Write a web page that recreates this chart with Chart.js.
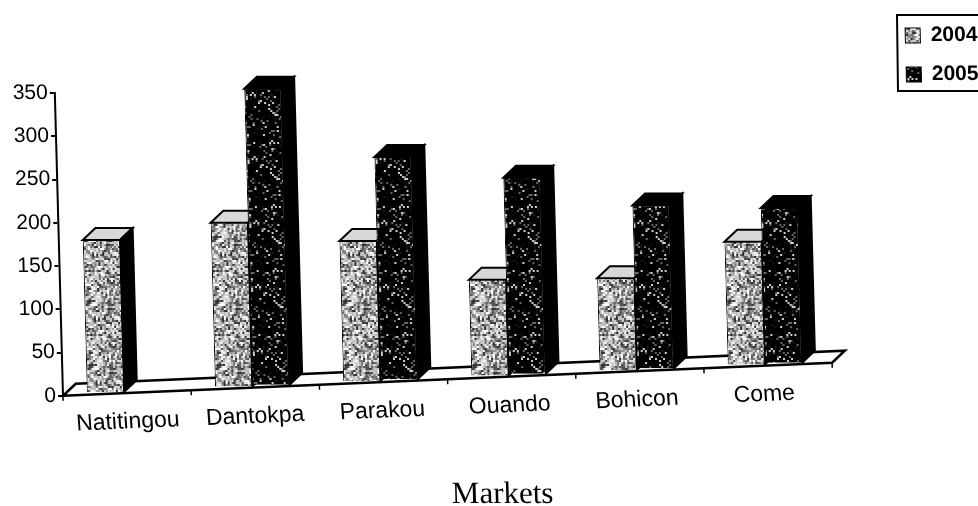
<!DOCTYPE html>
<html>
<head>
<meta charset="utf-8">
<script src="https://cdn.jsdelivr.net/npm/chart.js@4/dist/chart.umd.min.js"></script>
<style>
  html, body { margin: 0; background: #fff; }
  #chart1 { display: block; filter: blur(0.7px); }
</style>
</head>
<body>
<canvas id="chart1" width="978" height="506"></canvas>
<script>
const markets = ['Natitingou', 'Dantokpa', 'Parakou', 'Ouando', 'Bohicon', 'Come'];
const values2004 = [180, 200, 179, 134, 136, 178];
const values2005 = [null, 355, 276, 252, 220, 217];
const yTicks = [0, 50, 100, 150, 200, 250, 300, 350];

// look of the scanned 3D chart
const floorSlope = -0.043;
const lean = 0.027;
const depthX = 13;
const depthY = 12;
const barShift = -3;

// speckle tile, fixed hash so every run looks the same
function speckle(shades) {
  const c = document.createElement('canvas');
  c.width = c.height = 64;
  const g = c.getContext('2d');
  for (let y = 0; y < 32; y++) {
    for (let x = 0; x < 32; x++) {
      const h = Math.abs(Math.sin(x * 12.9898 + y * 78.233) * 43758.5453) % 1;
      g.fillStyle = shades[Math.floor(h * shades.length)];
      g.fillRect(x * 2, y * 2, 2, 2);
    }
  }
  return g.createPattern(c, 'repeat');
}
const light = speckle(['#fff', '#ddd', '#bbb', '#999', '#777', '#555', '#ccc', '#333']);
const dark = speckle(['#000', '#000', '#000', '#000', '#111', '#000', '#000', '#666', '#000', '#000', '#ccc', '#000']);

function floorFront(chart, x) {
  const left = chart.chartArea.left;
  return chart.scales.y.getPixelForValue(0) + (x - left) * floorSlope;
}

const scan3d = {
  id: 'scan3d',
  afterLayout(chart) {
    const lg = chart.legend;
    lg.left = 897;
    lg.right = 1000;
    lg.top = 7;
    lg.bottom = 130;
    lg.adjustHitBoxes();
    chart.titleBlock.left += 167;
    chart.titleBlock.top += 7;
  },
  afterDatasetsUpdate(chart) {
    // bar tops read on the axis, feet stand on the tilted floor
    chart.data.datasets.forEach((d, i) => {
      chart.getDatasetMeta(i).data.forEach(el => {
        el.x += barShift;
        el.base = floorFront(chart, el.x) - 2;
      });
    });
  },
  beforeDraw(chart) {
    const ctx = chart.ctx;
    ctx.save();
    ctx.transform(1, 0, lean, 1, -lean * chart.scales.y.getPixelForValue(0), 0);
  },
  beforeDatasetsDraw(chart) {
    const ctx = chart.ctx;
    const xs = chart.scales.x;
    const left = chart.chartArea.left;
    const right = chart.chartArea.right;
    const step = xs.getPixelForValue(1) - xs.getPixelForValue(0);

    // floor
    ctx.save();
    ctx.strokeStyle = '#000';
    ctx.lineWidth = 2.5;
    ctx.fillStyle = '#fff';
    ctx.beginPath();
    ctx.moveTo(left, floorFront(chart, left));
    ctx.lineTo(right, floorFront(chart, right));
    ctx.lineTo(right + depthX, floorFront(chart, right) - depthY);
    ctx.lineTo(left + depthX, floorFront(chart, left) - depthY);
    ctx.closePath();
    ctx.fill();
    ctx.stroke();
    ctx.lineWidth = 1.5;
    for (let i = 0; i <= markets.length; i++) {
      const x = left + i * step;
      ctx.beginPath();
      ctx.moveTo(x, floorFront(chart, x));
      ctx.lineTo(x, floorFront(chart, x) + 5);
      ctx.stroke();
    }

    // top and side faces, 2004 first
    chart.data.datasets.forEach((d, i) => {
      chart.getDatasetMeta(i).data.forEach((el, j) => {
        if (d.data[j] === null) return;
        const x1 = el.x - el.width / 2;
        const x2 = el.x + el.width / 2;
        ctx.fillStyle = i === 0 ? '#d8d8d8' : '#000';
        ctx.strokeStyle = '#000';
        ctx.lineWidth = 2;
        ctx.beginPath();
        ctx.moveTo(x1, el.y);
        ctx.lineTo(x1 + depthX, el.y - depthY);
        ctx.lineTo(x2 + depthX, el.y - depthY);
        ctx.lineTo(x2, el.y);
        ctx.closePath();
        ctx.fill();
        ctx.stroke();
        ctx.fillStyle = '#000';
        ctx.beginPath();
        ctx.moveTo(x2, el.y);
        ctx.lineTo(x2 + depthX, el.y - depthY);
        ctx.lineTo(x2 + depthX, el.base - depthY);
        ctx.lineTo(x2, el.base);
        ctx.closePath();
        ctx.fill();
        ctx.stroke();
      });
    });
    ctx.restore();
  },
  afterDatasetsDraw(chart) {
    // category labels follow the floor
    const ctx = chart.ctx;
    const xs = chart.scales.x;
    ctx.save();
    ctx.fillStyle = '#000';
    ctx.font = '23px "Liberation Sans"';
    ctx.textAlign = 'center';
    ctx.textBaseline = 'middle';
    markets.forEach((m, i) => {
      const x = xs.getPixelForValue(i) - i * 0.9;
      ctx.save();
      ctx.translate(x, floorFront(chart, x) + 29);
      ctx.rotate(Math.atan(floorSlope));
      ctx.fillText(m, 0, 0);
      ctx.restore();
    });
    ctx.restore();
  },
  afterDraw(chart) {
    const ctx = chart.ctx;
    ctx.restore();
    // legend frame runs off the page on the right
    ctx.save();
    ctx.strokeStyle = '#000';
    ctx.lineWidth = 2;
    ctx.beginPath();
    ctx.moveTo(985, 15);
    ctx.lineTo(897, 15);
    ctx.lineTo(898, 91);
    ctx.lineTo(985, 91);
    ctx.stroke();
    ctx.restore();
  }
};

const config = {
  type: 'bar',
  data: {
    labels: markets,
    datasets: [
      { label: '2004', data: values2004, backgroundColor: light, borderColor: '#000', borderWidth: 1, clip: false },
      { label: '2005', data: values2005, backgroundColor: dark, borderColor: '#000', borderWidth: 1, clip: false },
    ],
  },
  options: {
    responsive: false,
    animation: false,
    layout: { padding: { top: 93, right: 145, left: 0, bottom: 0 } },
    datasets: { bar: { categoryPercentage: 0.58, barPercentage: 1 } },
    scales: {
      x: { display: false },
      y: {
        min: 0,
        max: 350,
        afterFit(scale) { scale.width = 63; },
        afterBuildTicks(scale) { scale.ticks = yTicks.map(v => ({ value: v })); },
        border: { display: true, color: '#000', width: 2 },
        grid: { drawOnChartArea: false, color: '#000', tickLength: 5, lineWidth: 2 },
        ticks: {
          color: '#000',
          padding: 2,
          font: { family: '"Liberation Sans"', size: 21 },
        },
      },
    },
    plugins: {
      tooltip: { enabled: false },
      legend: {
        position: 'chartArea',
        align: 'start',
        labels: {
          boxWidth: 15,
          boxHeight: 15,
          padding: 18,
          color: '#000',
          font: { family: '"Liberation Sans"', size: 21, weight: 'bold' },
        },
      },
      title: {
        display: true,
        position: 'bottom',
        text: 'Markets',
        color: '#000',
        padding: { top: 73, bottom: 0 },
        font: { family: '"Liberation Serif"', size: 31, weight: 'normal' },
      },
    },
  },
  plugins: [scan3d],
};

var myChart = new Chart(document.getElementById('chart1'), config);
</script>
</body>
</html>
